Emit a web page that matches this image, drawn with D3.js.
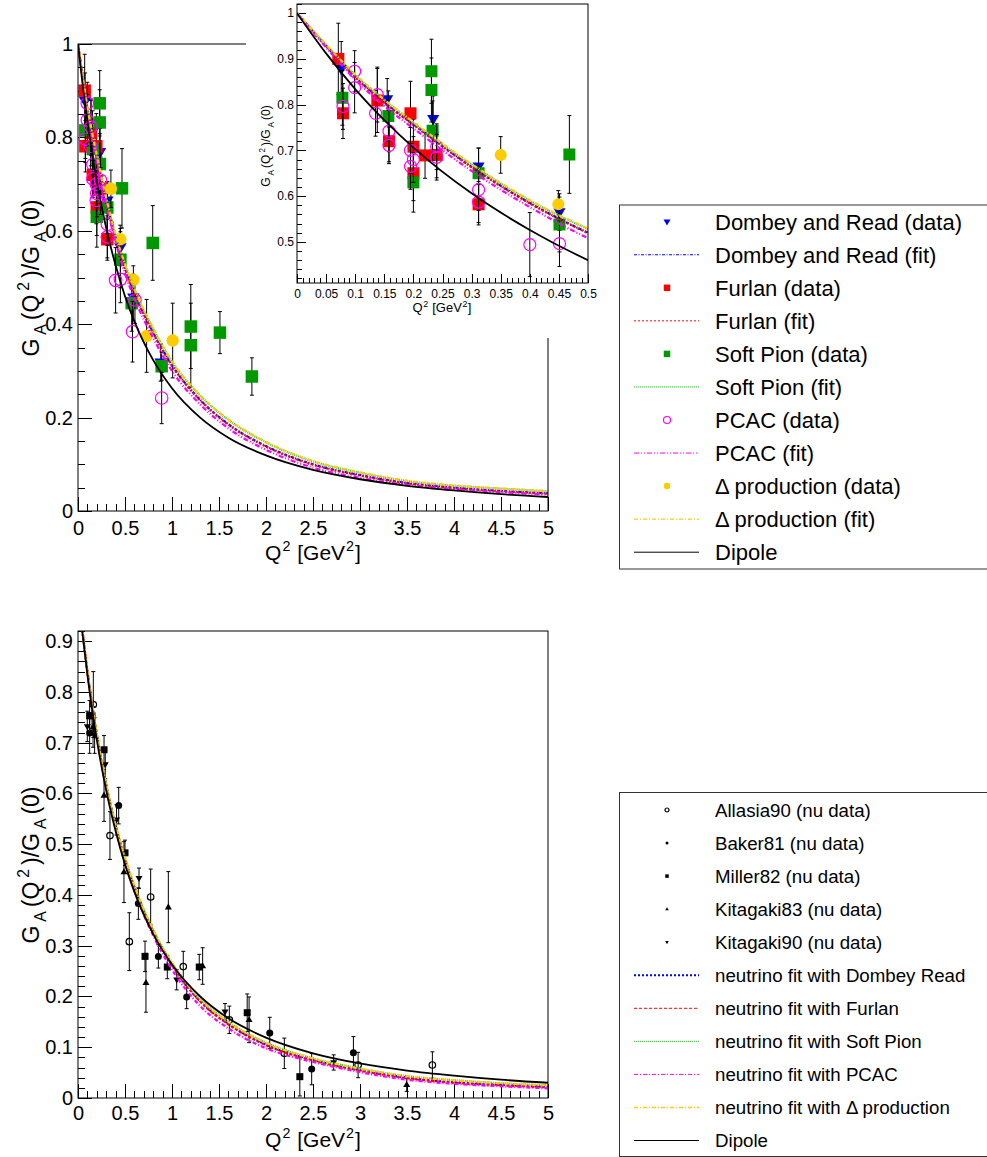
<!DOCTYPE html>
<html>
<head>
<meta charset="utf-8">
<script src="https://cdn.jsdelivr.net/npm/d3@7"></script>
<style>
  body { margin: 0; background: #fff; }
  text { font-family: "Liberation Sans", Arial, sans-serif; white-space: pre; }
</style>
</head>
<body>
<div id="chart"></div>
<script>
// ---------- data: [Q2, G_A ratio, error]
var dombeyData = [[0.076,0.878,0.06],[0.155,0.812,0.045],[0.234,0.769,0.05],[0.312,0.665,0.04],
                  [0.451,0.565,0.04],[0.589,0.457,0.05],[0.88,0.318,0.04]];
var furlanData = [[0.071,0.900,0.078],[0.079,0.781,0.055],[0.138,0.809,0.07],[0.158,0.720,0.045],
                  [0.195,0.781,0.07],[0.200,0.708,0.06],[0.200,0.650,0.06],[0.220,0.689,0.05],
                  [0.240,0.690,0.05],[0.312,0.582,0.045]];
var softPionData = [[0.078,0.815,0.06],[0.157,0.775,0.055],[0.200,0.630,0.065],[0.231,0.873,0.07],
                    [0.231,0.832,0.07],[0.233,0.743,0.065],[0.312,0.650,0.055],[0.451,0.538,0.06],
                    [0.468,0.691,0.085],[0.571,0.445,0.06],[0.795,0.574,0.08],[0.89,0.31,0.03],
                    [1.2,0.395,0.09],[1.2,0.355,0.09],[1.51,0.382,0.045],[1.85,0.288,0.04]];
var pcacData = [[0.079,0.796,0.05],[0.099,0.873,0.045],[0.099,0.837,0.055],[0.138,0.822,0.06],
                [0.135,0.781,0.05],[0.158,0.742,0.045],[0.158,0.711,0.04],[0.195,0.700,0.05],
                [0.195,0.665,0.05],[0.200,0.680,0.05],[0.240,0.708,0.05],[0.240,0.685,0.05],
                [0.312,0.614,0.045],[0.312,0.587,0.045],[0.400,0.494,0.07],[0.451,0.496,0.05],
                [0.58,0.384,0.065],[0.606,0.452,0.05],[0.89,0.242,0.055]];
var deltaData = [[0.350,0.690,0.04],[0.449,0.582,0.03],[0.589,0.495,0.03],[0.73,0.375,0.078],[1.007,0.365,0.08]];

// neutrino data (bottom panel)
var allasiaData = [[0.163,0.775,0.065],[0.34,0.517,0.047],[0.546,0.308,0.057],[0.773,0.396,0.055],
                   [1.12,0.259,0.03],[1.61,0.154,0.027],[2.195,0.088,0.03],[2.98,0.065,0.025],[3.77,0.065,0.026]];
var bakerData = [[0.124,0.719,0.04],[0.433,0.576,0.036],[0.642,0.383,0.031],[0.855,0.279,0.023],
                 [1.156,0.199,0.023],[2.04,0.128,0.031],[2.486,0.057,0.031],[2.93,0.089,0.032]];
var millerData = [[0.124,0.753,0.03],[0.149,0.753,0.03],[0.277,0.686,0.028],[0.50,0.483,0.025],
                  [0.713,0.279,0.03],[0.95,0.258,0.023],[1.29,0.258,0.025],[1.80,0.168,0.037],[2.36,0.042,0.038]];
var kit83Data = [[0.16,0.731,0.04],[0.277,0.596,0.051],[0.489,0.445,0.06],[0.723,0.227,0.058],
                 [0.961,0.376,0.07],[1.326,0.26,0.036],[1.82,0.154,0.045],[3.497,0.026,0.013]];
var kit90Data = [[0.099,0.732,0.03],[0.177,0.714,0.035],[0.29,0.657,0.028],[0.41,0.548,0.03],
                 [0.649,0.433,0.02],[1.05,0.233,0.02],[1.564,0.170,0.016],[2.72,0.070,0.015]];

// curves, read at these Q2 values
var q2Grid     = [0, 0.05, 0.1, 0.15, 0.2, 0.3, 0.4, 0.5, 0.6, 0.8, 1.0, 1.3, 1.6, 2.0, 2.5, 3.0, 3.5, 4.0, 4.5, 5.0];
var dipoleCurve= [1, 0.912, 0.834, 0.766, 0.706, 0.606, 0.526, 0.460, 0.406, 0.323, 0.263, 0.200, 0.157, 0.119, 0.088, 0.068, 0.054, 0.044, 0.036, 0.030];
var dombeyFit  = [1, 0.928, 0.861, 0.805, 0.757, 0.664, 0.585, 0.520, 0.467, 0.382, 0.312, 0.238, 0.186, 0.139, 0.100, 0.077, 0.060, 0.050, 0.043, 0.038];
var furlanFit  = [1, 0.928, 0.860, 0.804, 0.756, 0.663, 0.584, 0.519, 0.466, 0.381, 0.311, 0.237, 0.185, 0.138, 0.099, 0.076, 0.059, 0.049, 0.042, 0.037];
var softPionFit= [1, 0.930, 0.865, 0.810, 0.760, 0.669, 0.590, 0.528, 0.475, 0.390, 0.320, 0.247, 0.195, 0.147, 0.106, 0.082, 0.064, 0.054, 0.048, 0.042];
var pcacFit    = [1, 0.925, 0.855, 0.797, 0.748, 0.655, 0.576, 0.508, 0.455, 0.370, 0.300, 0.228, 0.177, 0.131, 0.093, 0.071, 0.056, 0.047, 0.040, 0.035];
var deltaFit   = [1, 0.931, 0.866, 0.811, 0.762, 0.670, 0.591, 0.529, 0.476, 0.391, 0.321, 0.248, 0.196, 0.148, 0.107, 0.083, 0.065, 0.055, 0.048, 0.043];

var nuDombeyFit  = [1, 0.916, 0.841, 0.775, 0.716, 0.616, 0.536, 0.470, 0.415, 0.328, 0.262, 0.191, 0.146, 0.105, 0.075, 0.055, 0.040, 0.031, 0.026, 0.022];
var nuFurlanFit  = [1, 0.916, 0.841, 0.775, 0.716, 0.616, 0.536, 0.470, 0.415, 0.328, 0.262, 0.190, 0.145, 0.104, 0.074, 0.054, 0.039, 0.030, 0.025, 0.021];
var nuSoftPionFit= [1, 0.916, 0.842, 0.776, 0.717, 0.618, 0.538, 0.473, 0.418, 0.331, 0.266, 0.195, 0.150, 0.109, 0.078, 0.058, 0.043, 0.035, 0.029, 0.025];
var nuPcacFit    = [1, 0.915, 0.840, 0.773, 0.713, 0.612, 0.531, 0.464, 0.408, 0.320, 0.253, 0.181, 0.137, 0.098, 0.071, 0.051, 0.036, 0.028, 0.023, 0.019];
var nuDeltaFit   = [1, 0.916, 0.842, 0.776, 0.717, 0.618, 0.538, 0.473, 0.418, 0.331, 0.266, 0.195, 0.150, 0.109, 0.078, 0.058, 0.043, 0.035, 0.029, 0.025];

// tick labels
var xTicks    = [0, 0.5, 1, 1.5, 2, 2.5, 3, 3.5, 4, 4.5, 5];
var yTicksTop = [0, 0.2, 0.4, 0.6, 0.8, 1];
var yTicksBot = [0, 0.1, 0.2, 0.3, 0.4, 0.5, 0.6, 0.7, 0.8, 0.9];
var xTicksIns = [0, 0.05, 0.1, 0.15, 0.2, 0.25, 0.3, 0.35, 0.4, 0.45, 0.5];
var yTicksIns = [0.5, 0.6, 0.7, 0.8, 0.9, 1];

// ---------- svg
var svg = d3.select("#chart").append("svg").attr("width", 987).attr("height", 1157);
svg.append("rect").attr("width", 987).attr("height", 1157).attr("fill", "#fff");

var xMain = d3.scaleLinear().domain([0, 5]).range([78, 548]);
var yMain = d3.scaleLinear().domain([0, 1]).range([511, 44]);
var xIns  = d3.scaleLinear().domain([0, 0.5]).range([297, 588]);
var yIns  = d3.scaleLinear().domain([0.41, 1.02]).range([283, 4]);
var yBot  = d3.scaleLinear().domain([0, 0.92]).range([1098, 631]);

var defs = svg.append("defs");
function clip(id, x, y, w, h) {
  defs.append("clipPath").attr("id", id).append("rect").attr("x", x).attr("y", y).attr("width", w).attr("height", h);
}
clip("cMain", 78, 44, 470, 467);
clip("cIns", 297, 4, 291, 279);
clip("cBot", 78, 631, 470, 467);

// rich text with sub/superscripts, ROOT-like gaps around the scripts
function rich(t, parts, size, gap) {
  var cur = 0, prevScript = false;
  parts.forEach(function(p) {
    var off = p[1] === 1 ? -0.42 * size : p[1] === -1 ? 0.3 * size : 0;
    var dx = (p[1] || prevScript) ? gap : 0;
    t.append("tspan").attr("dx", dx).attr("dy", off - cur).attr("font-size", p[1] ? size * 0.68 : size).text(p[0]);
    cur = off;
    prevScript = !!p[1];
  });
}
var yTitle = [["G",0],["A",-1],["(Q",0],["2",1],[")/G",0],["A",-1],["(0)",0]];
var xTitle = [["Q",0],["2",1],[" [GeV",0],["2",1],["]",0]];

function axes(g, x, y, o) {
  var bottom = y.range()[0], left = x.range()[0];
  var ax = g.append("g").attr("transform", "translate(0," + bottom + ")")
    .call(d3.axisBottom(x).tickValues(o.xt).tickFormat(d3.format("")).tickSize(-o.maj).tickPadding(o.xpad));
  var axm = g.append("g").attr("transform", "translate(0," + bottom + ")")
    .call(d3.axisBottom(x).tickValues(o.xm).tickFormat("").tickSize(-o.min));
  var ay = g.append("g").attr("transform", "translate(" + left + ",0)")
    .call(d3.axisLeft(y).tickValues(o.yt).tickFormat(d3.format("")).tickSize(-o.maj).tickPadding(o.ypad));
  var aym = g.append("g").attr("transform", "translate(" + left + ",0)")
    .call(d3.axisLeft(y).tickValues(o.ym).tickFormat("").tickSize(-o.min));
  [ax, axm, ay, aym].forEach(function(a) {
    a.select(".domain").remove();
    a.selectAll("line").attr("stroke", "#000").attr("shape-rendering", "crispEdges");
    a.selectAll("text").attr("font-family", "Liberation Sans, Arial, sans-serif")
      .attr("font-size", o.fs).attr("fill", "#000");
  });
}
function minors(lo, hi, step) {
  return d3.range(Math.round((hi - lo) / step) + 1).map(function(i) { return +(lo + i * step).toFixed(4); });
}

function points(g, data, x, y, type, size, color) {
  var gg = g.append("g");
  gg.selectAll(".e").data(data).join("line")
    .attr("x1", function(d) { return x(d[0]); }).attr("x2", function(d) { return x(d[0]); })
    .attr("y1", function(d) { return y(d[1] - d[2]); }).attr("y2", function(d) { return y(d[1] + d[2]); })
    .attr("stroke", "#000").attr("stroke-width", 1);
  [-1, 1].forEach(function(s) {
    gg.selectAll(".c" + s).data(data).join("line")
      .attr("x1", function(d) { return x(d[0]) - 2; }).attr("x2", function(d) { return x(d[0]) + 2; })
      .attr("y1", function(d) { return y(d[1] + s * d[2]); }).attr("y2", function(d) { return y(d[1] + s * d[2]); })
      .attr("stroke", "#000");
  });
  var m = gg.selectAll(".m").data(data).join("path")
    .attr("transform", function(d) { return "translate(" + x(d[0]) + "," + y(d[1]) + ")"; })
    .attr("d", shape(type, size));
  styleMarker(m, type, color);
}
function shape(type, s) {
  var h = s / 2;
  if (type === "square") return "M" + -h + "," + -h + "h" + s + "v" + s + "h" + -s + "Z";
  if (type === "tdown") return "M" + -h + "," + (-s * 0.32) + "L" + h + "," + (-s * 0.32) + "L0," + (s * 0.55) + "Z";
  if (type === "tup") return "M" + -h + "," + (s * 0.32) + "L" + h + "," + (s * 0.32) + "L0," + (-s * 0.55) + "Z";
  return "M" + h + ",0A" + h + "," + h + " 0 1,1 " + -h + ",0A" + h + "," + h + " 0 1,1 " + h + ",0Z";
}
function styleMarker(m, type, color) {
  if (type === "ocircle") m.attr("fill", "none").attr("stroke", color).attr("stroke-width", 1.2);
  else m.attr("fill", color).attr("stroke", "none");
}

function curve(g, x, y, vals, st, w) {
  var line = d3.line().x(function(d, i) { return x(q2Grid[i]); }).y(function(d) { return y(d); })
    .curve(d3.curveMonotoneX);
  g.append("path").datum(vals).attr("d", line).attr("fill", "none")
    .attr("stroke", st.color).attr("stroke-width", w).attr("stroke-dasharray", st.dash || null);
}

var topSeries = [
  { label: "Dombey and Read (data)", data: dombeyData, type: "tdown", color: "#0000ff" },
  { label: "Furlan (data)", data: furlanData, type: "square", color: "#ff0000" },
  { label: "Soft Pion (data)", data: softPionData, type: "square", color: "#009900" },
  { label: "PCAC (data)", data: pcacData, type: "ocircle", color: "#ff00ff" },
  { label: "\u0394 production (data)", data: deltaData, type: "circle", color: "#ffcc00" }
];
var topFits = [
  { label: "Dombey and Read (fit)", vals: dombeyFit, color: "#0000ff", dash: "3,1.5,1,1.5" },
  { label: "Furlan (fit)", vals: furlanFit, color: "#ff0000", dash: "2,2" },
  { label: "Soft Pion (fit)", vals: softPionFit, color: "#33bb33", dash: "1,1" },
  { label: "PCAC (fit)", vals: pcacFit, color: "#ff00ff", dash: "5,2,1,2,1,2" },
  { label: "\u0394 production (fit)", vals: deltaFit, color: "#ffcc00", dash: "4,2,1,2", w: 1.4 },
  { label: "Dipole", vals: dipoleCurve, color: "#000", dash: null }
];

// ---------- top main panel
var gMain = svg.append("g");
axes(gMain, xMain, yMain, { xt: xTicks, xm: minors(0, 5, 0.1), yt: yTicksTop, ym: minors(0, 1, 0.05),
  maj: 14, min: 7, fs: 20, xpad: 10, ypad: 5 });
var pMain = gMain.append("g");
topSeries.forEach(function(s) { points(pMain, s.data, xMain, yMain, s.type, 12.5, s.color); });
var cMain = gMain.append("g").attr("clip-path", "url(#cMain)");
topFits.forEach(function(f) { curve(cMain, xMain, yMain, f.vals, f, f.color === "#000" ? 1.8 : 2.2); });
gMain.append("rect").attr("x", 78).attr("y", 44).attr("width", 470).attr("height", 467)
  .attr("fill", "none").attr("stroke", "#000");
rich(gMain.append("text").attr("x", 313).attr("y", 560).attr("text-anchor", "middle"), xTitle, 21, 1);
rich(gMain.append("text").attr("transform", "translate(39,278) rotate(-90)").attr("text-anchor", "middle"), yTitle, 23, 4);

// ---------- inset panel
var gIns = svg.append("g");
gIns.append("rect").attr("x", 246).attr("y", 0).attr("width", 360).attr("height", 338).attr("fill", "#fff");
axes(gIns, xIns, yIns, { xt: xTicksIns, xm: minors(0, 0.5, 0.01), yt: yTicksIns, ym: minors(0.42, 1.02, 0.02),
  maj: 9, min: 5, fs: 12, xpad: 6, ypad: 3 });
var pIns = gIns.append("g").attr("clip-path", "url(#cIns)");
topSeries.forEach(function(s) { points(pIns, s.data, xIns, yIns, s.type, 12, s.color); });
var cIns = gIns.append("g").attr("clip-path", "url(#cIns)");
topFits.forEach(function(f) { curve(cIns, xIns, yIns, f.vals, f, f.color === "#000" ? 1.8 : 2.2); });
gIns.append("rect").attr("x", 297).attr("y", 4).attr("width", 291).attr("height", 279)
  .attr("fill", "none").attr("stroke", "#000");
rich(gIns.append("text").attr("x", 442).attr("y", 312).attr("text-anchor", "middle"), xTitle, 13, 0.5);
rich(gIns.append("text").attr("transform", "translate(270,146) rotate(-90)").attr("text-anchor", "middle"), yTitle, 12, 2);

// ---------- bottom panel
var botSeries = [
  { label: "Allasia90 (nu data)", data: allasiaData, type: "ocircle", color: "#000" },
  { label: "Baker81 (nu data)", data: bakerData, type: "circle", color: "#000" },
  { label: "Miller82 (nu data)", data: millerData, type: "square", color: "#000" },
  { label: "Kitagaki83 (nu data)", data: kit83Data, type: "tup", color: "#000" },
  { label: "Kitagaki90 (nu data)", data: kit90Data, type: "tdown", color: "#000" }
];
var botFits = [
  { label: "neutrino fit with Dombey Read", vals: nuDombeyFit, color: "#0000ff", dash: "2,2", w: 2 },
  { label: "neutrino fit with Furlan", vals: nuFurlanFit, color: "#ff0000", dash: "3,2", w: 1 },
  { label: "neutrino fit with Soft Pion", vals: nuSoftPionFit, color: "#33bb33", dash: "1,1", w: 1 },
  { label: "neutrino fit with PCAC", vals: nuPcacFit, color: "#ff00ff", dash: "4,2,1,2", w: 1 },
  { label: "neutrino fit with \u0394 production", vals: nuDeltaFit, color: "#ffcc00", dash: "4,2,1,2", w: 1.4 },
  { label: "Dipole", vals: dipoleCurve, color: "#000", dash: null, w: 1 }
];
var gBot = svg.append("g");
axes(gBot, xMain, yBot, { xt: xTicks, xm: minors(0, 5, 0.1), yt: yTicksBot, ym: minors(0, 0.92, 0.02),
  maj: 14, min: 7, fs: 20, xpad: 8, ypad: 5 });
botSeries.forEach(function(s) { points(gBot, s.data, xMain, yBot, s.type, s.type === "ocircle" ? 6.5 : 7, s.color); });
var cBot = gBot.append("g").attr("clip-path", "url(#cBot)");
botFits.forEach(function(f) { curve(cBot, xMain, yBot, f.vals, f, f.color === "#000" ? 1.8 : 2.2); });
gBot.append("rect").attr("x", 78).attr("y", 631).attr("width", 470).attr("height", 467)
  .attr("fill", "none").attr("stroke", "#000");
rich(gBot.append("text").attr("x", 313).attr("y", 1147).attr("text-anchor", "middle"), xTitle, 21, 1);
rich(gBot.append("text").attr("transform", "translate(39,865) rotate(-90)").attr("text-anchor", "middle"), yTitle, 23, 4);

// ---------- legends
function legend(y0, h, rows, first, step, fs, msize) {
  var g = svg.append("g");
  g.append("rect").attr("x", 619.5).attr("y", y0).attr("width", 400).attr("height", h)
    .attr("fill", "#fff").attr("stroke", "#333");
  rows.forEach(function(r, i) {
    var cy = first + i * step;
    if (r.data) {
      var m = g.append("path").attr("transform", "translate(667," + cy + ")").attr("d", shape(r.type, msize[r.type]));
      styleMarker(m, r.type, r.color);
    } else {
      g.append("line").attr("x1", 634).attr("x2", 699).attr("y1", cy).attr("y2", cy)
        .attr("stroke", r.color).attr("stroke-width", r.w || 1).attr("stroke-dasharray", r.dash || null);
    }
    g.append("text").attr("x", 715).attr("y", cy).attr("dy", "0.36em").attr("font-size", fs).text(r.label);
  });
}
var topRows = [];
topSeries.forEach(function(s, i) { topRows.push(s); topRows.push(topFits[i]); });
topRows.push(topFits[5]);
legend(205, 364, topRows, 221.7, 33.05, 22, { tdown: 7, square: 6.5, ocircle: 7, circle: 6.5 });
legend(792.5, 364, botSeries.concat(botFits), 810, 33.05, 18.7, { tdown: 3.5, tup: 3.5, square: 3.5, ocircle: 4, circle: 3 });
</script>
</body>
</html>
